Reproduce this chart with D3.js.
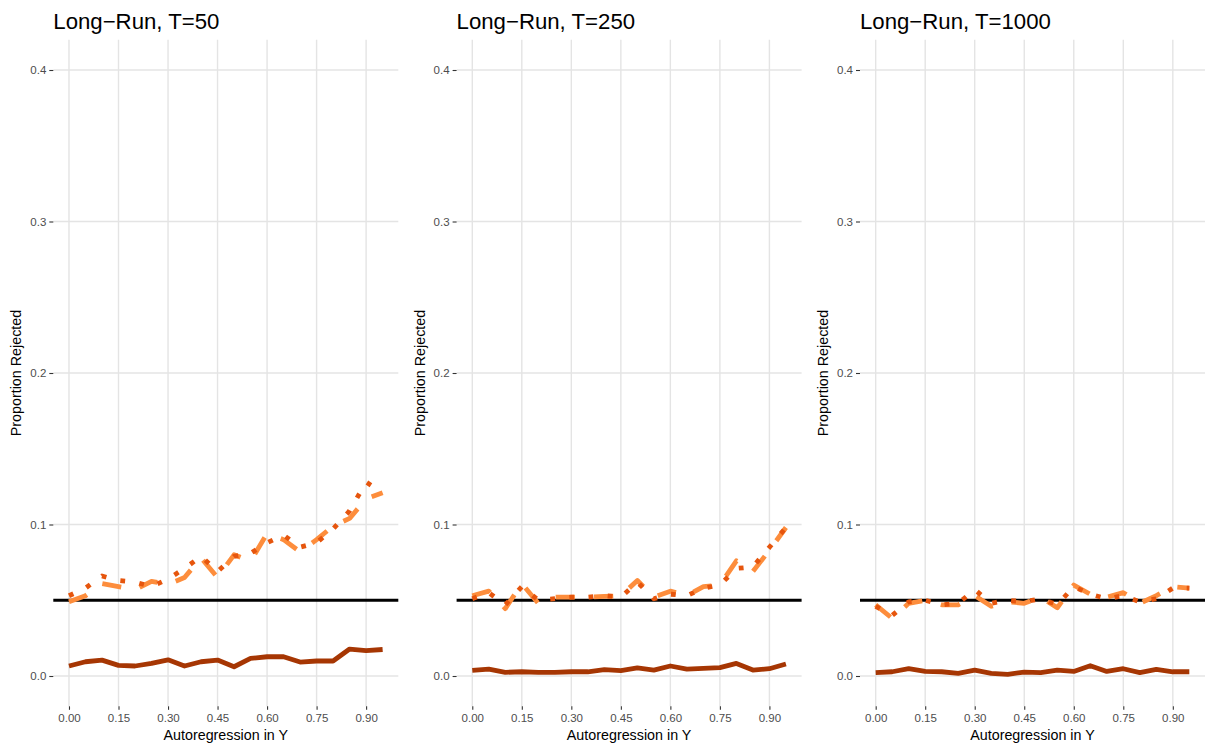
<!DOCTYPE html>
<html>
<head>
<meta charset="utf-8">
<script src="https://cdn.jsdelivr.net/npm/d3@7/dist/d3.min.js"></script>
<style>
body{margin:0;background:#fff;}
svg{display:block;font-family:"Liberation Sans",Arial,sans-serif;}
</style>
</head>
<body>
<script>
// autoregression values on the x axis
const arValues = [0.00,0.05,0.10,0.15,0.20,0.25,0.30,0.35,0.40,0.45,0.50,0.55,0.60,0.65,0.70,0.75,0.80,0.85,0.90,0.95];

const panelTitles = ["Long\u2212Run, T=50", "Long\u2212Run, T=250", "Long\u2212Run, T=1000"];

// T=50
const solid50  = [0.0066,0.0094,0.0105,0.0070,0.0066,0.0083,0.0107,0.0066,0.0094,0.0105,0.0061,0.0116,0.0127,0.0127,0.0092,0.0099,0.0099,0.0178,0.0167,0.0175];
const dashed50 = [0.049,0.053,0.061,0.059,0.057,0.0625,0.0605,0.065,0.078,0.065,0.080,0.0757,0.094,0.090,0.082,0.090,0.099,0.104,0.117,0.121];
const dotted50 = [0.053,0.058,0.066,0.063,0.062,0.059,0.064,0.071,0.079,0.069,0.079,0.081,0.088,0.093,0.085,0.088,0.097,0.109,0.128,0.121];
// T=250
const solid250  = [0.0037,0.0046,0.0024,0.0028,0.0024,0.0024,0.0028,0.0028,0.0042,0.0035,0.0053,0.0039,0.0066,0.0046,0.0050,0.0055,0.0083,0.0039,0.0048,0.0079];
const dashed250 = [0.053,0.056,0.0445,0.061,0.048,0.052,0.052,0.052,0.0525,0.053,0.063,0.052,0.056,0.053,0.059,0.060,0.076,0.069,0.083,0.098];
const dotted250 = [0.051,0.055,0.047,0.059,0.050,0.051,0.052,0.052,0.053,0.052,0.062,0.051,0.054,0.053,0.058,0.060,0.071,0.072,0.085,0.098];
// T=1000
const solid1000  = [0.0022,0.0028,0.0048,0.0030,0.0028,0.0018,0.0039,0.0018,0.0011,0.0026,0.0022,0.0039,0.0030,0.0068,0.0030,0.0048,0.0022,0.0044,0.0028,0.0028];
const dashed1000 = [0.047,0.038,0.048,0.050,0.047,0.047,0.053,0.046,0.049,0.048,0.052,0.045,0.060,0.054,0.052,0.055,0.048,0.053,0.059,0.058];
const dotted1000 = [0.046,0.040,0.049,0.050,0.047,0.048,0.057,0.048,0.050,0.049,0.051,0.047,0.059,0.054,0.051,0.053,0.049,0.051,0.058,0.058];

const xTicks = [0.00,0.15,0.30,0.45,0.60,0.75,0.90];
const yTicks = [0.0,0.1,0.2,0.3,0.4];
const nominalLevel = 0.05;

const width = 1205, height = 744;
const panelLefts = [53.3, 456.6, 860];
const panelW = 345;
const plotTop = 39.7, plotBottom = 706.3;
const lw = 4.8; // line width

const panels = [
  {title: panelTitles[0], solid: solid50,   dashed: dashed50,   dotted: dotted50},
  {title: panelTitles[1], solid: solid250,  dashed: dashed250,  dotted: dotted250},
  {title: panelTitles[2], solid: solid1000, dashed: dashed1000, dotted: dotted1000}
];

const svg = d3.select('body').append('svg')
  .attr('width', width)
  .attr('height', height);

const y = d3.scaleLinear().domain([-0.02, 0.42]).range([plotBottom, plotTop]);

panels.forEach((p, k) => {
  const left = panelLefts[k];
  const x = d3.scaleLinear().domain([-0.0475, 0.9975]).range([left, left + panelW]);
  const g = svg.append('g');

  // grid
  g.selectAll('.hgrid').data(yTicks).enter().append('line')
    .attr('x1', left).attr('x2', left + panelW)
    .attr('y1', d => y(d)).attr('y2', d => y(d))
    .attr('stroke', '#E4E4E4').attr('stroke-width', 1.4);
  g.selectAll('.vgrid').data(xTicks).enter().append('line')
    .attr('y1', plotTop).attr('y2', plotBottom)
    .attr('x1', d => x(d)).attr('x2', d => x(d))
    .attr('stroke', '#E4E4E4').attr('stroke-width', 1.4);

  // axes
  const yAxis = d3.axisLeft(y).tickValues(yTicks).tickFormat(d3.format('.1f')).tickSize(4).tickPadding(3);
  const xAxis = d3.axisBottom(x).tickValues(xTicks).tickFormat(d3.format('.2f')).tickSize(3.5).tickPadding(4);
  const ya = g.append('g').attr('transform', `translate(${left},0)`).call(yAxis);
  const xa = g.append('g').attr('transform', `translate(0,${plotBottom})`).call(xAxis);
  [ya, xa].forEach(a => {
    a.select('.domain').remove();
    a.selectAll('line').attr('stroke', '#333333').attr('stroke-width', 1.1);
    a.selectAll('text').attr('fill', '#4D4D4D').style('font-size', '11.5px').style('font-family', '"Liberation Sans",Arial,sans-serif');
  });

  // nominal 5% line
  g.append('line')
    .attr('x1', left).attr('x2', left + panelW)
    .attr('y1', y(nominalLevel)).attr('y2', y(nominalLevel))
    .attr('stroke', '#000').attr('stroke-width', 3);

  const line = d3.line().x((d, i) => x(arValues[i])).y(d => y(d));
  const series = [
    {vals: p.dashed, color: '#FD8D3C', dash: `${4*lw},${4*lw}`},
    {vals: p.dotted, color: '#E6550D', dash: `${lw},${3*lw}`},
    {vals: p.solid,  color: '#A63603', dash: null}
  ];
  series.forEach(s => {
    g.append('path')
      .attr('d', line(s.vals))
      .attr('fill', 'none')
      .attr('stroke', s.color)
      .attr('stroke-width', lw)
      .attr('stroke-linejoin', 'round')
      .attr('stroke-linecap', 'butt')
      .attr('stroke-dasharray', s.dash);
  });

  // titles
  g.append('text').attr('x', left).attr('y', 29.3)
    .style('font-size', '22.2px').attr('fill', '#000').text(p.title);
  g.append('text').attr('x', left + panelW / 2).attr('y', 740)
    .attr('text-anchor', 'middle').style('font-size', '14.3px').text('Autoregression in Y');
  g.append('text')
    .attr('transform', `translate(${left - 32},${(plotTop + plotBottom) / 2}) rotate(-90)`)
    .attr('text-anchor', 'middle').style('font-size', '14.3px').text('Proportion Rejected');
});
</script>
</body>
</html>
